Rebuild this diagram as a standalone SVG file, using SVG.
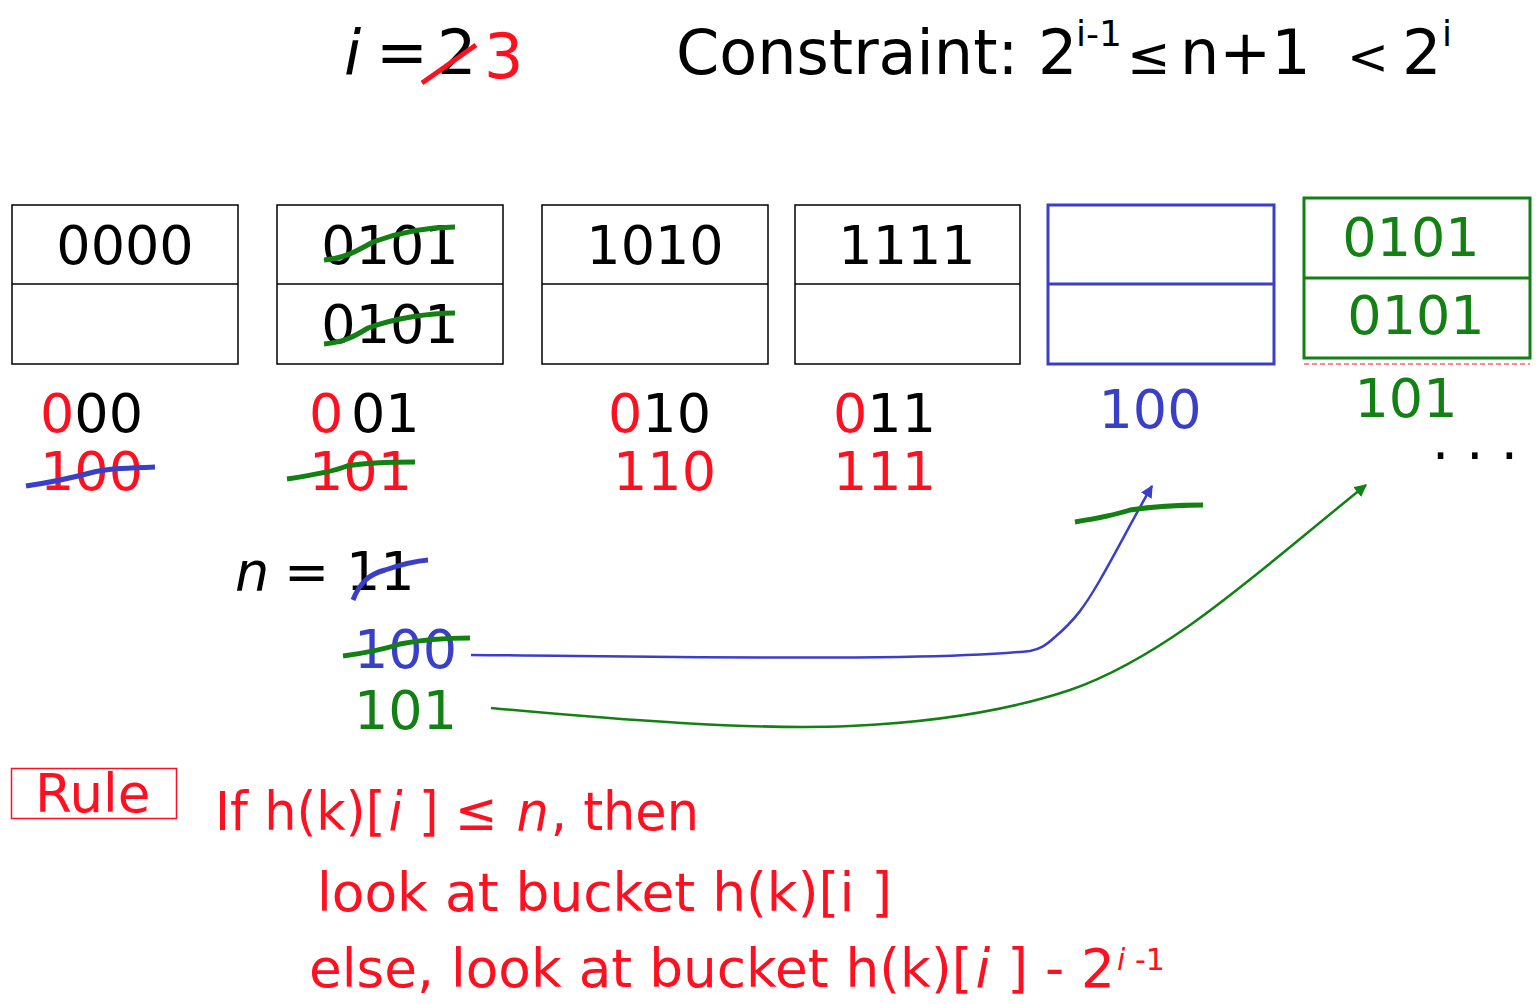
<svg xmlns="http://www.w3.org/2000/svg" width="1540" height="1004" viewBox="0 0 1540 1004">
<style>
text{font-family:"DejaVu Sans","Liberation Sans",sans-serif;}
.big{font-size:54px;}
.t62{font-size:62px;}
.sup{font-size:36px;}
.rl{font-size:53px;fill:#ff1020;}
.it{font-style:italic;}
.red{fill:#ff1020;}
.blk{fill:#000;}
.blu{fill:#3a3fc8;}
.grn{fill:#128012;}
.box{fill:#fff;stroke:#000;stroke-width:1.5;}
.boxb{fill:#fff;stroke:#3a3fc8;stroke-width:3;}
.boxg{fill:#fff;stroke:#128012;stroke-width:3;}
.sg{fill:none;stroke:#128012;stroke-width:5;}
.sb{fill:none;stroke:#3a3fc8;stroke-width:5;}
.sr{fill:none;stroke:#ff1020;stroke-width:5;}
</style>
<defs>
<marker id="ab" viewBox="0 0 10 10" refX="9" refY="5" markerWidth="5" markerHeight="5" orient="auto" markerUnits="strokeWidth"><path d="M0,0 L10,5 L0,10 z" fill="#3a3fc8"/></marker>
<marker id="ag" viewBox="0 0 10 10" refX="9" refY="5" markerWidth="5" markerHeight="5" orient="auto" markerUnits="strokeWidth"><path d="M0,0 L10,5 L0,10 z" fill="#128012"/></marker>
</defs>
<rect width="1540" height="1004" fill="#fff"/>

<g id="title-i">
<text class="t62 it" x="344" y="74">i</text>
<text class="t62" x="376" y="74">=</text>
<text class="t62" x="437" y="74">2</text>
<text class="t62 red" x="484" y="78">3</text>
<path class="sr" d="M422,83 L476,45"/>
</g>

<g id="title-constraint">
<text class="t62" x="676" y="74">Constraint: 2</text>
<text class="sup" x="1076" y="46">i-1</text>
<text style="font-size:52px" x="1127" y="74">≤</text>
<text class="t62" x="1180" y="74">n+1</text>
<text style="font-size:50px" x="1347" y="74">&lt;</text>
<text class="t62" x="1402" y="74">2</text>
<text class="sup" x="1442" y="46">i</text>
</g>

<g id="bucket-000">
<rect class="box" x="12" y="205" width="226" height="159"/>
<line class="box" x1="12" y1="284" x2="238" y2="284"/>
<text class="big" x="125" y="264" text-anchor="middle">0000</text>
<text class="big" x="40" y="432"><tspan class="red">0</tspan>00</text>
<text class="big red" x="40" y="490">100</text>
<path class="sb" d="M26,486 C60,481 75,477 90,473 C110,468 130,468 155,467"/>
</g>

<g id="bucket-001">
<rect class="box" x="277" y="205" width="226" height="159"/>
<line class="box" x1="277" y1="284" x2="503" y2="284"/>
<text class="big" x="390" y="264" text-anchor="middle">0101</text>
<text class="big" x="390" y="343" text-anchor="middle">0101</text>
<path class="sg" d="M324,260 C345,258 355,252 373,242 C400,232 430,227 455,227"/>
<path class="sg" d="M324,344 C345,342 355,336 368,328 C395,318 430,313 455,313"/>
<text class="big red" x="309" y="432">0</text>
<text class="big" x="351" y="432">01</text>
<text class="big red" x="309" y="490">101</text>
<path class="sg" d="M287,479 C320,474 335,471 347,466 C370,462 395,462 415,462"/>
</g>

<g id="bucket-010">
<rect class="box" x="542" y="205" width="226" height="159"/>
<line class="box" x1="542" y1="284" x2="768" y2="284"/>
<text class="big" x="655" y="264" text-anchor="middle">1010</text>
<text class="big" x="608" y="432"><tspan class="red">0</tspan>10</text>
<text class="big red" x="613" y="490">110</text>
</g>

<g id="bucket-011">
<rect class="box" x="795" y="205" width="225" height="159"/>
<line class="box" x1="795" y1="284" x2="1020" y2="284"/>
<text class="big" x="907" y="264" text-anchor="middle">1111</text>
<text class="big" x="833" y="432"><tspan class="red">0</tspan>11</text>
<text class="big red" x="833" y="490">111</text>
</g>

<g id="bucket-100">
<rect class="boxb" x="1048" y="205" width="226" height="159"/>
<line class="boxb" x1="1048" y1="284" x2="1274" y2="284"/>
<text class="big blu" x="1150" y="428" text-anchor="middle">100</text>
</g>

<g id="bucket-101">
<rect class="boxg" x="1304" y="198" width="226" height="160"/>
<line class="boxg" x1="1304" y1="278" x2="1530" y2="278"/>
<text class="big grn" x="1411" y="256" text-anchor="middle">0101</text>
<text class="big grn" x="1416" y="334" text-anchor="middle">0101</text>
<line x1="1304" y1="364" x2="1530" y2="364" stroke="#ff1020" stroke-width="1" stroke-dasharray="5,3"/>
<text class="big grn" x="1406" y="417" text-anchor="middle">101</text>
</g>

<g id="ellipsis">
<text class="big" x="1432" y="459">. . .</text>
</g>

<g id="n-value">
<text class="big it" x="235" y="590">n</text>
<text class="big" x="284" y="590">=</text>
<text class="big" x="346" y="590">11</text>
<path class="sb" d="M353,600 C360,582 370,574 385,570 C400,565 415,561 428,560"/>
<text class="big blu" x="354" y="668">100</text>
<path class="sg" d="M343,656 C365,653 385,649 400,644 C420,640 450,638 470,638"/>
<text class="big grn" x="354" y="729">101</text>
</g>

<g id="connectors">
<path d="M471,655 C600,656 750,659 900,657 C960,656 1010,653 1030,651 C1040,649 1045,646 1055,637 C1075,620 1085,606 1100,580 C1120,545 1135,515 1152,486" fill="none" stroke="#3a3fc8" stroke-width="2.5" marker-end="url(#ab)"/>
<path d="M491,708 C620,720 750,730 850,726 C940,722 1010,710 1070,690 C1170,655 1260,570 1366,485" fill="none" stroke="#128012" stroke-width="2.5" marker-end="url(#ag)"/>
<path class="sg" d="M1075,522 C1100,518 1115,515 1130,510 C1150,507 1180,505 1203,505" stroke-width="6"/>
</g>

<g id="rule">
<rect x="11.5" y="768.5" width="165" height="50" fill="none" stroke="#ff1020" stroke-width="1.5"/>
<text class="rl" x="35" y="812">Rule</text>
<text class="rl" x="215" y="830" textLength="484" lengthAdjust="spacingAndGlyphs">If h(k)[<tspan class="it" dx="3">i</tspan> ] ≤ <tspan class="it" dx="3">n</tspan><tspan dx="2">, then</tspan></text>
<text class="rl" x="317" y="911" textLength="575" lengthAdjust="spacingAndGlyphs">look at bucket h(k)[i ]</text>
<text class="rl" x="309" y="987" textLength="806" lengthAdjust="spacingAndGlyphs">else, look at bucket h(k)[<tspan class="it" dx="3">i</tspan> ] - 2</text>
<text x="1117" y="970" style="font-size:30px;fill:#ff1020"><tspan class="it">i</tspan> -1</text>
</g>
</svg>
